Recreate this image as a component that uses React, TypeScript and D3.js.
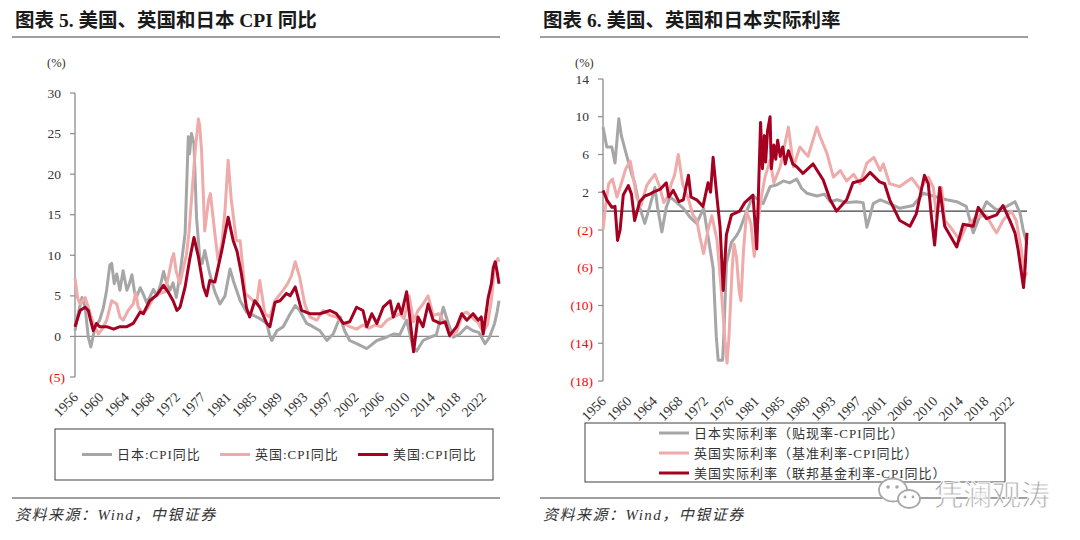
import React from 'react';
import * as d3 from 'd3';

type Pt = [number, number];

const cpiTitle = '图表 5. 美国、英国和日本 CPI 同比';
const rateTitle = '图表 6. 美国、英国和日本实际利率';
const sourceText = '资料来源：Wind，中银证券';
const watermark = '凭澜观涛';

const cpiYearLabels = ['1956', '1960', '1964', '1968', '1972', '1977', '1981', '1985', '1989', '1993', '1997', '2002', '2006', '2010', '2014', '2018', '2022'];
const rateYearLabels = ['1956', '1960', '1964', '1968', '1972', '1976', '1981', '1985', '1989', '1993', '1997', '2001', '2006', '2010', '2014', '2018', '2022'];

const cpiLegend = ['日本:CPI同比', '英国:CPI同比', '美国:CPI同比'];
const rateLegend = ['日本实际利率（贴现率-CPI同比）', '英国实际利率（基准利率-CPI同比）', '美国实际利率（联邦基金利率-CPI同比）'];

const COLORS = ['#A6A6A6', '#EFAAAA', '#A50021'];

// CPI yoy, % (year, value)
const jpCpi: Pt[] = [
  [1956.0, 0.7], [1956.4, 2.5], [1957.1, 4.8], [1957.6, 3.6], [1958.1, -0.1], [1958.5, -1.3], [1959.2, 1.2], [1959.9, 2.0],
  [1960.5, 3.6], [1961.0, 5.7], [1961.5, 8.8], [1961.8, 9.0], [1962.2, 6.5], [1962.6, 7.7], [1963.1, 5.7], [1963.6, 8.1], [1964.2, 5.7],
  [1964.6, 6.5], [1965.0, 7.6], [1965.4, 5.5], [1965.7, 4.8], [1966.3, 6.0], [1966.8, 5.2], [1967.3, 4.2], [1967.8, 4.8],
  [1968.4, 5.8], [1968.9, 5.0], [1969.5, 6.3], [1970.0, 8.0], [1970.5, 6.5], [1971.0, 5.7],
  [1971.5, 6.6], [1972.0, 4.8], [1972.6, 7.7], [1973.4, 12.7], [1973.9, 24.6], [1974.1, 22.5], [1974.4, 25.0], [1974.8, 23.8],
  [1975.2, 14.7], [1975.7, 9.8], [1976.1, 9.0], [1976.5, 10.6], [1977.3, 7.7], [1978.1, 5.5], [1978.9, 4.0], [1979.7, 5.0],
  [1980.5, 8.3], [1981.0, 6.9], [1982.1, 4.4],
  [1983.1, 3.0], [1984.2, 2.6], [1985.2, 2.2], [1986.3, 1.6], [1986.8, 0.0], [1987.1, -0.5], [1987.9, 0.7], [1988.9, 1.2],
  [1990.0, 2.8], [1990.8, 3.8], [1991.5, 3.2], [1992.6, 1.6], [1993.6, 1.2], [1994.7, 0.7], [1995.8, -0.5], [1996.8, 0.3],
  [1997.9, 2.4], [1998.6, 0.7], [1999.4, -0.5], [2000.5, -0.9], [2002.1, -1.5], [2003.7, -0.5], [2005.2, -0.1], [2006.3, 0.3],
  [2007.3, 0.2], [2008.4, 2.0], [2009.4, -1.3], [2010.0, -1.8], [2011.0, -0.5], [2012.1, -0.1], [2013.1, 0.2], [2014.2, 3.6],
  [2015.0, 1.6], [2015.8, -0.1], [2016.8, 0.3], [2017.9, 1.2], [2018.9, 0.7], [2019.8, 0.5], [2020.8, -0.9], [2021.5, -0.1],
  [2022.3, 1.6], [2022.7, 3.0], [2023.0, 4.4],
];

const ukCpi: Pt[] = [
  [1956.0, 7.2], [1956.4, 4.8], [1956.8, 4.0], [1957.6, 4.8], [1958.1, 3.6], [1958.9, 1.6], [1959.7, 0.3], [1960.2, 0.8],
  [1961.0, 2.0], [1961.8, 4.4], [1962.6, 4.0], [1963.1, 2.4], [1963.6, 2.0], [1964.4, 3.2], [1965.2, 4.0], [1965.6, 5.4],
  [1966.0, 3.6], [1966.8, 2.8], [1967.6, 3.6], [1968.4, 4.8], [1969.4, 5.3], [1970.2, 5.5], [1970.8, 7.5], [1971.3, 9.5],
  [1971.6, 10.2], [1972.0, 8.0], [1972.6, 6.5], [1973.0, 8.0], [1973.6, 10.0], [1974.0, 12.7], [1974.4, 16.8], [1975.0, 22.9],
  [1975.5, 26.8], [1975.7, 26.0], [1976.0, 22.9], [1976.5, 13.0], [1977.1, 16.8], [1977.4, 17.6], [1978.1, 12.7], [1978.6, 9.4],
  [1979.2, 11.4], [1979.7, 15.5], [1980.2, 21.7], [1980.7, 16.8], [1981.5, 11.8], [1982.1, 11.8], [1982.9, 5.3], [1983.6, 4.8],
  [1984.7, 4.0], [1985.2, 6.9], [1986.0, 2.8], [1986.8, 2.4], [1987.6, 4.4], [1988.9, 5.7], [1989.6, 6.5], [1990.2, 7.5],
  [1990.8, 9.2], [1991.5, 7.3], [1992.3, 4.0], [1993.1, 2.4], [1994.2, 2.0], [1995.2, 3.2], [1996.3, 2.6], [1997.3, 2.4],
  [1998.4, 1.6], [1999.4, 1.2], [2000.5, 0.9], [2001.5, 1.4], [2002.4, 1.0], [2003.4, 1.4], [2004.4, 1.2], [2005.3, 2.0],
  [2006.4, 2.4], [2007.3, 2.8], [2008.0, 2.2], [2008.8, 5.0], [2009.5, 1.8], [2010.2, 3.2], [2011.0, 4.0], [2011.8, 5.0],
  [2012.6, 2.6], [2013.5, 2.8], [2014.5, 1.6], [2015.3, 0.0], [2016.3, 0.6], [2017.3, 2.8], [2017.9, 3.0], [2018.8, 2.3],
  [2019.7, 1.7], [2020.5, 0.5], [2021.2, 1.5], [2021.8, 4.5], [2022.3, 8.5], [2022.8, 9.6], [2023.0, 9.2],
];

const usCpi: Pt[] = [
  [1956.0, 1.2], [1956.8, 3.2], [1957.6, 3.6], [1958.1, 3.2], [1958.4, 2.2], [1958.9, 0.7], [1959.4, 1.6], [1959.9, 1.2],
  [1961.0, 1.2], [1962.1, 0.9], [1963.1, 1.2], [1964.2, 1.2], [1965.2, 1.6], [1966.3, 3.0], [1966.8, 2.8], [1967.8, 4.4],
  [1968.9, 5.1], [1970.0, 6.3], [1970.7, 5.5], [1971.5, 4.4], [1972.1, 3.2], [1972.6, 3.6], [1973.4, 6.1], [1974.1, 9.4],
  [1974.8, 12.2], [1975.5, 9.8], [1976.3, 6.1], [1976.8, 5.0], [1977.3, 6.9], [1978.1, 6.7], [1979.2, 10.6], [1980.2, 14.7],
  [1981.0, 11.8], [1981.6, 10.5], [1982.3, 7.7], [1983.1, 3.5], [1983.6, 2.4], [1984.4, 4.4], [1985.2, 3.6], [1986.3, 1.6],
  [1986.8, 1.2], [1987.6, 4.2], [1988.4, 4.4], [1989.4, 5.3], [1990.0, 5.0], [1990.8, 6.1], [1991.8, 3.2], [1993.1, 2.8],
  [1994.7, 2.8], [1996.3, 3.2], [1997.3, 2.8], [1998.4, 1.6], [1999.4, 1.8], [2000.5, 3.6], [2001.5, 3.2], [2002.1, 1.2],
  [2002.9, 2.8], [2003.7, 1.6], [2004.7, 3.6], [2005.8, 4.4], [2006.3, 2.4], [2007.1, 4.0], [2007.6, 2.8], [2008.4, 5.5],
  [2008.9, 2.4], [2009.5, -1.9], [2010.2, 2.4], [2011.0, 1.2], [2011.8, 4.0], [2012.6, 2.0], [2013.7, 1.6], [2014.5, 1.8],
  [2015.2, 0.1], [2016.3, 1.2], [2017.1, 2.8], [2017.9, 2.0], [2018.9, 2.8], [2019.7, 2.0], [2020.2, 2.4], [2020.5, 0.3],
  [2021.3, 4.8], [2021.8, 6.5], [2022.1, 8.5], [2022.4, 9.2], [2022.7, 8.0], [2023.0, 6.5],
];

const jpReal: Pt[] = [
  [1956.0, 8.9], [1956.6, 6.8], [1957.4, 6.8], [1957.9, 5.1], [1958.5, 9.8], [1958.9, 8.0], [1959.5, 6.5], [1960.5, 4.0],
  [1961.0, 3.0], [1961.8, 0.4], [1962.6, -1.3], [1963.4, 0.5], [1964.2, 2.5], [1964.6, 0.5], [1965.3, -2.2], [1966.0, 0.4],
  [1966.6, 1.5], [1967.5, 1.0], [1968.7, 0.3], [1969.7, -0.6], [1970.8, -1.3], [1971.9, 0.3], [1972.6, -2.7], [1973.4, -6.0],
  [1973.9, -13.3], [1974.2, -15.8], [1974.9, -15.8], [1975.1, -13.0], [1975.5, -5.5], [1976.3, -3.3], [1977.1, -2.6], [1977.6, -2.0],
  [1978.7, 0.0], [1979.7, 1.6], [1980.6, 1.2], [1981.3, 0.8], [1982.4, 2.6], [1983.5, 2.8], [1984.5, 3.2], [1985.5, 3.0],
  [1986.6, 3.4], [1987.4, 2.4], [1988.2, 1.9], [1989.8, 1.6], [1991.0, 1.8], [1991.9, 1.0], [1993.0, 1.2], [1994.5, 0.9],
  [1996.0, 1.0], [1997.1, 0.9], [1997.7, -1.7], [1998.2, -0.5], [1998.7, 0.8], [1999.8, 1.2], [2001.3, 0.8], [2002.9, 0.3],
  [2005.0, 0.6], [2006.6, 1.9], [2008.7, 1.5], [2010.3, 1.2], [2011.9, 1.0], [2013.4, 0.5], [2014.5, -2.3], [2015.5, -0.6],
  [2016.6, 1.0], [2018.2, 0.1], [2019.8, 0.5], [2021.1, 1.0], [2021.9, -0.2], [2022.4, -2.0], [2023.0, -3.5],
];

const ukReal: Pt[] = [
  [1956.0, -2.0], [1956.4, 0.5], [1956.9, 2.9], [1957.5, 3.4], [1958.2, 1.5], [1958.7, 2.5], [1959.6, 4.5], [1960.3, 5.3],
  [1960.8, 3.5], [1961.3, 1.5], [1962.0, 0.6], [1962.9, 2.7], [1963.4, 3.2], [1964.2, 3.9], [1965.0, 2.5], [1965.6, 0.9],
  [1966.2, 1.5], [1966.8, 2.9], [1967.3, 3.8], [1967.9, 6.0], [1968.6, 2.8], [1969.4, 1.5], [1970.2, -0.4], [1970.8, -0.9],
  [1971.3, -2.7], [1971.9, -4.5], [1972.6, -2.0], [1973.2, -0.5], [1974.0, -3.0], [1974.7, -8.4], [1975.3, -14.0], [1975.6, -16.1],
  [1975.9, -13.4], [1976.4, -6.2], [1976.7, -3.5], [1977.1, -4.9], [1977.5, -8.4], [1977.8, -9.5], [1978.2, -4.2], [1978.7, 0.0],
  [1979.4, -1.4], [1979.9, -4.8], [1980.4, -1.5], [1981.1, 1.8], [1981.6, 3.6], [1982.4, 5.4], [1983.0, 3.0], [1984.0, 4.7],
  [1985.3, 8.9], [1986.1, 4.7], [1987.1, 6.8], [1988.4, 5.8], [1989.8, 8.9], [1990.3, 7.9], [1991.4, 6.1], [1992.4, 3.6],
  [1993.5, 4.3], [1994.5, 3.2], [1995.6, 3.9], [1996.6, 2.9], [1997.7, 5.1], [1998.8, 5.7], [1999.8, 4.3], [2000.3, 5.0],
  [2001.3, 2.9], [2002.9, 2.6], [2004.8, 3.5], [2006.1, 2.3], [2007.4, 3.6], [2008.2, 2.5], [2008.7, -0.6], [2009.5, 2.5],
  [2010.0, -1.0], [2010.8, -1.6], [2012.4, -3.1], [2013.4, -1.6], [2015.0, -0.6], [2016.6, -0.5], [2017.7, -1.8], [2018.2, -2.3],
  [2019.2, -1.0], [2020.5, 0.0], [2021.3, -1.0], [2022.1, -4.1], [2022.6, -7.0], [2023.0, -6.5],
];

const usReal: Pt[] = [
  [1956.0, 2.2], [1956.6, 1.2], [1957.4, 0.4], [1957.9, 0.5], [1958.3, -3.1], [1958.7, -2.0], [1959.2, 1.7], [1960.0, 2.7],
  [1960.5, 1.8], [1961.0, -1.0], [1961.8, 1.0], [1962.6, 1.6], [1963.4, 1.8], [1964.2, 2.1], [1965.0, 2.3], [1966.0, 3.0],
  [1966.4, 1.5], [1967.1, 2.2], [1968.0, 1.0], [1968.7, 1.2], [1969.5, 3.8], [1969.9, 1.5], [1970.8, 1.2], [1971.8, 0.5],
  [1972.6, 3.0], [1973.0, 2.0], [1973.4, 5.7], [1974.0, 1.5], [1974.5, -1.7], [1975.0, -8.4], [1975.5, -2.5], [1976.3, -0.4],
  [1977.6, 0.0], [1978.4, 0.9], [1979.7, 1.7], [1980.3, -4.0], [1980.9, 9.4], [1981.2, 4.5], [1981.5, 8.0], [1981.7, 5.2],
  [1982.0, 8.5], [1982.4, 10.0], [1982.6, 4.5], [1983.0, 7.0], [1983.3, 5.5], [1983.6, 7.5], [1984.0, 5.8], [1984.4, 6.8],
  [1984.8, 5.0], [1985.3, 6.4], [1986.0, 5.0], [1986.6, 4.7], [1987.6, 4.0], [1989.2, 5.0], [1990.8, 3.3],
  [1991.9, 1.2], [1992.9, 0.0], [1994.5, 1.2], [1995.5, 3.0], [1997.1, 3.3], [1998.2, 4.1], [1999.7, 3.1], [2000.5, 2.9],
  [2001.3, 1.2], [2002.9, -1.0], [2004.5, -1.6], [2005.5, -0.3], [2006.8, 3.8], [2007.4, 2.9], [2007.9, -0.6], [2008.4, -3.6],
  [2009.2, 2.5], [2010.0, -1.6], [2011.9, -3.8], [2012.9, -1.4], [2014.5, -1.6], [2015.3, 0.4], [2016.6, -0.8], [2018.2, -0.4],
  [2019.2, 0.6], [2020.3, -1.0], [2021.1, -2.3], [2021.6, -4.1], [2022.0, -6.0], [2022.45, -8.1], [2022.7, -6.0], [2023.0, -2.3],
];

const FONT = "'Liberation Serif', 'Times New Roman', 'Noto Sans CJK SC', serif";

type PanelProps = {
  left: number;
  title: string;
  series: Pt[][];
  legend: string[];
  labels: string[];
  yMin: number;
  yMax: number;
  yStep: number;
  plot: { x0: number; x1: number; top: number; bottom: number };
  labelRange: [number, number];
  zeroColor: string;
  legendBox: { x: number; y: number; w: number; h: number };
  legendRows: boolean;
};

const fmt = (v: number) => (v < 0 ? `(${-v})` : `${v}`);

function Panel(p: PanelProps) {
  const x = d3.scaleLinear().domain([1956, 2023]).range([p.plot.x0, p.plot.x1]);
  const y = d3.scaleLinear().domain([p.yMin, p.yMax]).range([p.plot.bottom, p.plot.top]);
  const xl = d3.scalePoint<string>().domain(p.labels).range(p.labelRange);
  const ticks = d3.range(p.yMin, p.yMax + 0.001, p.yStep);
  const line = d3.line<Pt>().x(d => x(d[0])).y(d => y(d[1]));

  return (
    <g>
      <text x={p.left + 3} y={27} fontSize={19.5} fontWeight="bold" fill="#1a1a1a" fontFamily={FONT}>{p.title}</text>
      <line x1={p.left} x2={p.left + 488} y1={37} y2={37} stroke="#7f7f7f" strokeWidth={1.5} />
      <text x={p.plot.x0 - 28} y={67} fontSize={12.5} fill="#333" fontFamily={FONT}>(%)</text>

      {/* y axis */}
      <line x1={p.plot.x0} x2={p.plot.x0} y1={p.plot.top} y2={p.plot.bottom} stroke="#8c8c8c" strokeWidth={1.3} />
      {ticks.map(t => (
        <g key={t}>
          <line x1={p.plot.x0 - 5} x2={p.plot.x0} y1={y(t)} y2={y(t)} stroke="#8c8c8c" strokeWidth={1.2} />
          <text x={p.plot.x0 - (t < 0 ? 10 : 14)} y={y(t) + 4.5} fontSize={13.5} textAnchor="end"
            fill={t < 0 ? '#FF0000' : '#333'} fontFamily={FONT}>{fmt(t)}</text>
        </g>
      ))}
      <line x1={p.plot.x0} x2={p.plot.x1} y1={y(0)} y2={y(0)} stroke={p.zeroColor} strokeWidth={1.3} />

      {/* x labels */}
      {p.labels.map(l => (
        <text key={l} transform={`translate(${xl(l)},${p.plot.bottom + 21}) rotate(-45)`} fontSize={14}
          textAnchor="end" fill="#333" fontFamily={FONT}>{l}</text>
      ))}

      {/* series */}
      {p.series.map((s, i) => (
        <path key={i} d={line(s) || ''} fill="none" stroke={COLORS[i]} strokeWidth={3} strokeLinejoin="round" />
      ))}

      {/* legend */}
      <rect x={p.legendBox.x} y={p.legendBox.y} width={p.legendBox.w} height={p.legendBox.h} fill="none" stroke="#404040" strokeWidth={1} />
      {p.legend.map((name, i) => {
        const lx = p.legendRows ? p.legendBox.x + 74 : p.legendBox.x + 27 + i * 138;
        const ly = p.legendRows ? p.legendBox.y + 10 + i * 20 : p.legendBox.y + p.legendBox.h / 2;
        return (
          <g key={name}>
            <line x1={lx} x2={lx + 30} y1={ly} y2={ly} stroke={COLORS[i]} strokeWidth={3} />
            <text x={lx + 35} y={ly + 4.5} fontSize={13} fill="#333" fontFamily={FONT} letterSpacing={1}>{name}</text>
          </g>
        );
      })}

      {/* source */}
      <line x1={p.left} x2={p.left + 488} y1={498} y2={498} stroke="#7f7f7f" strokeWidth={1.5} />
      <text x={p.left + 3} y={520} fontSize={15} fontStyle="italic" fill="#333" fontFamily={FONT} letterSpacing={1.5}>{sourceText}</text>
    </g>
  );
}

export default function App() {
  return (
    <svg width={1080} height={540} style={{ position: 'absolute', left: 0, top: 0, background: '#fff' }}>
      <rect width={1080} height={540} fill="#fff" />
      <Panel left={12} title={cpiTitle} series={[jpCpi, ukCpi, usCpi]} legend={cpiLegend} labels={cpiYearLabels}
        yMin={-5} yMax={30} yStep={5} plot={{ x0: 75, x1: 499, top: 93, bottom: 377 }} labelRange={[79, 487]}
        zeroColor="#8c8c8c" legendBox={{ x: 55, y: 429, w: 438, h: 51 }} legendRows={false} />
      <Panel left={540} title={rateTitle} series={[jpReal, ukReal, usReal]} legend={rateLegend} labels={rateYearLabels}
        yMin={-18} yMax={14} yStep={4} plot={{ x0: 603, x1: 1027, top: 79, bottom: 381 }} labelRange={[607, 1015]}
        zeroColor="#404040" legendBox={{ x: 585, y: 423, w: 420, h: 59 }} legendRows={true} />

      {/* watermark */}
      <g>
        <ellipse cx={893} cy={490} rx={14} ry={11.5} fill="#fff" stroke="#a8a8a8" strokeWidth={1.8} />
        <ellipse cx={909} cy={499} rx={11} ry={9} fill="#fff" stroke="#a8a8a8" strokeWidth={1.8} />
        <circle cx={888} cy={487} r={1.8} fill="#a8a8a8" />
        <circle cx={897} cy={487} r={1.8} fill="#a8a8a8" />
        <circle cx={905} cy={497} r={1.4} fill="#a8a8a8" />
        <circle cx={913} cy={497} r={1.4} fill="#a8a8a8" />
        <text x={934} y={506} fontSize={29} fill="#a6a6a6" stroke="#fff" strokeWidth={0.8}
          fontFamily="'Noto Sans CJK SC', sans-serif">{watermark}</text>
      </g>
    </svg>
  );
}
